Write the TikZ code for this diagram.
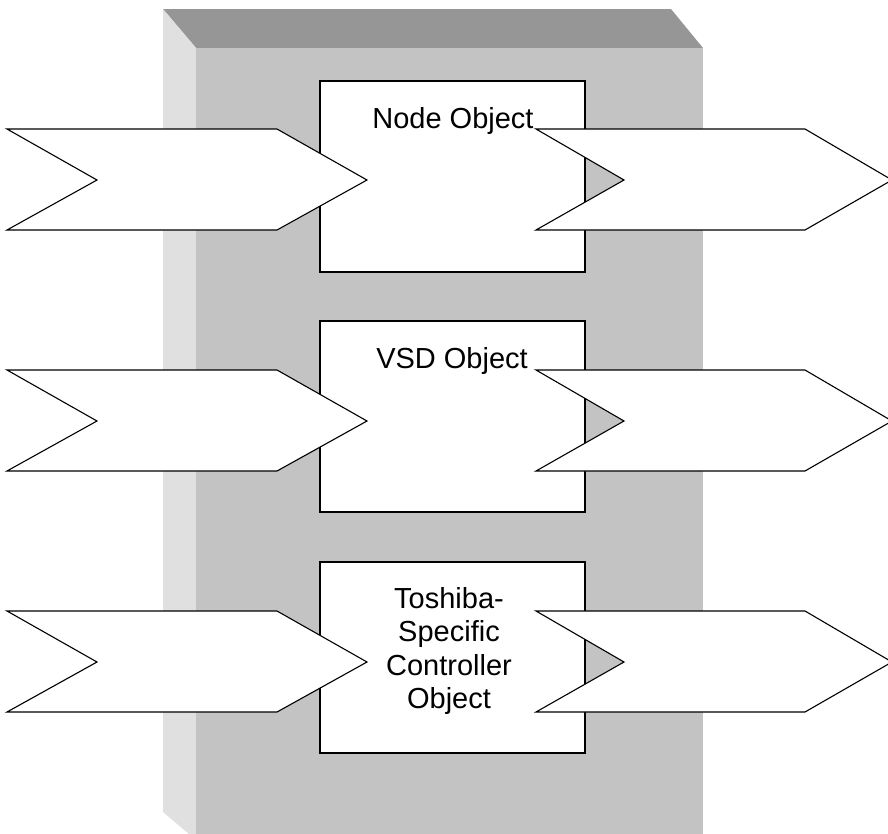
\documentclass[tikz,border=0pt]{standalone}
\usepackage{fontspec}
\setmainfont{Liberation Sans}
\begin{document}
\begin{tikzpicture}[x=1pt,y=-1pt,
  topface/.style={fill=topgray,draw=none},
  frontface/.style={fill=frontgray,draw=none},
  sideface/.style={fill=sidegray,draw=none},
  objbox/.style={fill=white,draw=black,line width=1.4pt},
  chevron/.style={fill=white,draw=black,line width=1.1pt,line join=miter},
  lbl/.style={font=\fontsize{29pt}{33.4pt}\selectfont,inner sep=0pt,align=center}]
\definecolor{topgray}{RGB}{150,150,150}
\definecolor{frontgray}{RGB}{195,195,195}
\definecolor{sidegray}{RGB}{224,224,224}
\useasboundingbox (0,0) rectangle (888,833);
% 3D block
\fill[topface] (163,9) -- (671,9) -- (703,48) -- (196,48) -- cycle;
\fill[sideface] (163,9) -- (196,48) -- (196,840) -- (163,812) -- cycle;
\fill[frontface] (196,48) rectangle (703,840);
% object boxes
\draw[objbox] (320,81) rectangle (585,272);
\draw[objbox] (320,321) rectangle (585,512);
\draw[objbox] (320,562) rectangle (585,753);
% labels
\node[lbl,anchor=base] (l1) at (453,128) {Node Object};
\node[lbl,anchor=base] (l2) at (452,368) {VSD Object};
\node[lbl,anchor=north] (l3) at (449,587) {Toshiba-\\Specific\\Controller\\Object};
% chevrons
\foreach \y in {0,241,482}{
  \draw[chevron] (7,129+\y) -- (277,129+\y) -- (367,180+\y) -- (277,230+\y) -- (7,230+\y) -- (97,180+\y) -- cycle;
  \draw[chevron] (536,129+\y) -- (805,129+\y) -- (892,180+\y) -- (805,230+\y) -- (536,230+\y) -- (624,180+\y) -- cycle;
}
\end{tikzpicture}
\end{document}
